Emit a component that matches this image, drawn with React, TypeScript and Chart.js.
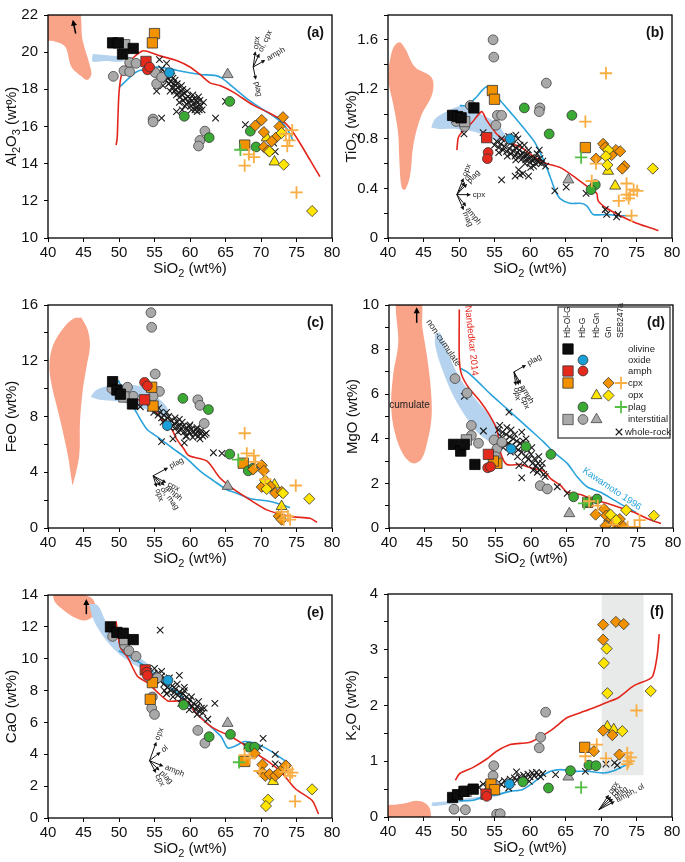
import React, { useEffect, useRef } from 'react';
import { Chart, registerables } from 'chart.js';

Chart.register(...registerables);
const FF = "'Liberation Sans', Arial, Helvetica, sans-serif";
Chart.defaults.font.family = FF;

// ---------------- DATA ----------------
// Panel (a) Al2O3
const aWholeRock = [[56.3,18.7],[56.6,18.5],[56.9,18.6],[57.0,18.3],[57.3,18.4],[57.5,18.1],[57.7,18.3],[57.8,17.9],[58.0,18.0],[58.1,17.7],[58.3,18.1],[58.4,17.8],[58.6,17.6],[58.7,17.9],[58.9,17.7],[59.0,17.4],[59.2,17.8],[59.4,17.5],[59.5,17.2],[59.7,17.6],[59.8,17.3],[60.0,17.5],[60.1,17.1],[60.3,17.4],[60.5,17.2],[60.6,17.5],[60.8,17.0],[61.0,17.3],[61.1,17.1],[61.3,16.9],[61.4,17.4],[61.5,17.1],[58.2,18.3],[57.4,18.7],[59.0,18.0],[60.2,16.9],[61.0,16.8],[57.2,17.9],[58.5,17.3],[56.0,19.1],[55.7,19.6],[56.7,19.4],[55.3,17.9],[56.0,16.45],[58.1,16.8],[61.9,17.3],[63.6,16.45],[65.0,17.35],[67.8,16.1],[72.0,14.65],[71.8,15.1],[54.5,19.1],[55.8,18.9],[56.5,18.9],[57.6,18.6],[58.8,18.2],[59.6,17.9],[60.4,17.7],[61.2,17.6],[57.9,18.5],[59.3,17.1],[60.7,16.9],[58.9,16.9],[61.7,16.9],[56.2,18.2],[57.0,18.9],[60.9,17.4]];
const aBlackSq = [[49.1,20.5],[49.9,20.5],[50.5,19.9],[52.0,20.2]];
const aGraySq = [[50.8,20.4]];
const aRedSq = [[53.8,19.5]];
const aOrangeSq = [[55.0,21.0],[54.7,20.5],[67.7,15.0]];
const aBlueCi = [[57.1,18.9]];
const aRedCi = [[54.0,19.05],[54.3,19.2]];
const aGreenCi = [[59.2,16.55],[62.7,15.4],[65.6,17.35],[68.5,15.75],[69.3,14.9]];
const aGrayCi = [[49.2,18.7],[50.7,19.0],[51.5,18.95],[51.5,19.45],[52.4,19.4],[55.1,18.9],[55.3,18.3],[56.0,18.65],[54.8,16.4],[54.8,16.25],[62.1,15.75],[61.4,15.25],[61.2,14.95]];
const aGrayTri = [[65.3,18.8]];
const aYellowTri = [[71.9,14.1],[70.8,15.4]];
const aOrangeDia = [[73.1,16.5],[70.1,16.35],[69.2,16.05],[70.4,15.7],[72.6,16.0],[72.1,15.4],[71.5,15.2],[70.4,14.9],[71.0,14.7]];
const aYellowDia = [[73.2,13.95],[77.2,11.45],[72.9,15.65],[71.2,14.65]];
const aOrangePlus = [[67.7,13.9],[68.3,14.5],[69.0,14.35],[73.5,15.6],[74.4,15.8],[74.0,15.25],[73.7,14.95],[75.0,12.45]];
const aGreenPlus = [[67.1,14.75]];
const aRed = [[49.6,15.0],[49.75,15.4],[49.85,16.5],[50.0,17.8],[50.3,18.7],[50.9,19.25],[52.0,19.7],[53.2,20.05],[53.9,20.05],[55.8,19.8],[58.1,19.55],[60.0,19.2],[61.4,18.8],[62.8,18.35],[64.2,18.2],[66.1,17.85],[68.9,17.15],[71.3,16.7],[72.9,16.35],[74.1,15.9],[75.5,15.1],[76.9,14.2],[78.3,13.3]];
const aBlue = [[50.0,18.1],[51.1,18.5],[52.5,18.95],[53.9,19.1],[55.3,19.2],[57.2,19.1],[59.1,18.95],[61.4,18.8],[63.5,18.75],[64.5,18.6],[66.1,18.1],[68.0,17.5],[69.9,17.0],[71.8,16.55],[73.2,16.1],[74.1,15.6],[74.5,15.25]];
const aBand = [[46.3,19.9],[48.0,19.85],[50.4,19.72],[50.6,19.5],[48.0,19.52],[46.3,19.5],[46.3,19.9]];
const aCumulate = [[39.5,22.6],[44.0,22.6],[44.9,20.6],[45.8,19.4],[46.1,18.8],[45.5,18.5],[44.7,18.7],[43.3,19.2],[42.4,20.3],[40.7,20.6],[39.5,20.7],[39.5,22.6]];

// Panel (b) TiO2
const bWholeRock = [[50.7,0.84],[53.4,0.85],[55.0,0.75],[55.3,0.78],[55.6,0.73],[55.9,0.76],[56.2,0.71],[56.4,0.74],[56.7,0.70],[56.9,0.78],[57.1,0.72],[57.3,0.68],[57.5,0.75],[57.7,0.70],[57.9,0.66],[58.0,0.73],[58.2,0.69],[58.4,0.65],[58.5,0.71],[58.7,0.67],[58.9,0.64],[59.0,0.69],[59.2,0.66],[59.4,0.63],[59.6,0.67],[59.8,0.64],[60.0,0.61],[60.2,0.65],[60.4,0.62],[60.6,0.64],[60.8,0.60],[61.0,0.63],[61.2,0.61],[61.4,0.64],[61.6,0.60],[61.8,0.62],[58.0,0.83],[58.3,0.80],[57.0,0.82],[59.2,0.75],[56.0,0.47],[57.9,0.50],[58.6,0.51],[59.0,0.52],[59.8,0.50],[61.3,0.71],[62.2,0.58],[63.5,0.38],[65.1,0.41],[67.9,0.36],[70.6,0.23],[70.8,0.19],[72.4,0.19],[72.2,0.17],[58.4,0.55],[60.1,0.57],[56.0,0.80],[57.3,0.77],[58.6,0.75],[59.8,0.71],[61.0,0.68],[55.6,0.69],[56.8,0.66],[58.0,0.63],[59.3,0.60],[60.5,0.58]];
const bBlackSq = [[49.1,0.99],[49.8,0.98],[50.3,0.97],[52.1,1.05]];
const bGraySq = [[50.8,0.94]];
const bRedSq = [[53.9,0.81]];
const bOrangeSq = [[54.7,1.19],[55.0,1.12],[67.8,0.73]];
const bBlueCi = [[57.2,0.80]];
const bRedCi = [[54.1,0.69],[54.0,0.64]];
const bGreenCi = [[59.2,1.05],[62.7,0.84],[65.9,0.99],[69.2,0.43],[68.6,0.39]];
const bGrayCi = [[49.6,0.94],[50.8,0.90],[51.6,1.07],[54.8,1.60],[54.9,1.46],[55.4,0.99],[56.0,0.99],[55.2,0.91],[61.4,1.05],[61.3,1.02],[62.3,1.25]];
const bGrayTri = [[65.4,0.47]];
const bYellowTri = [[71.0,0.54],[72.0,0.42]];
const bOrangeDia = [[70.3,0.76],[70.6,0.73],[69.3,0.64],[72.1,0.71],[72.7,0.70],[71.5,0.67],[73.3,0.58],[73.0,0.56]];
const bYellowDia = [[71.0,0.71],[70.7,0.66],[70.9,0.59],[77.3,0.56]];
const bOrangePlus = [[70.7,1.33],[67.8,0.94],[69.3,0.60],[68.7,0.46],[73.6,0.44],[72.5,0.30],[73.6,0.35],[73.9,0.32],[74.6,0.39],[75.1,0.38],[74.3,0.18],[74.1,0.35]];
const bGreenPlus = [[67.2,0.65]];
const bRed = [[49.7,0.71],[49.9,0.81],[50.35,0.85],[51.8,0.93],[53.2,1.02],[53.9,0.95],[55.3,0.84],[56.7,0.78],[58.8,0.73],[60.2,0.67],[61.6,0.62],[62.4,0.60],[64.2,0.57],[66.1,0.50],[68.2,0.41],[69.4,0.36],[69.6,0.30],[70.8,0.24],[72.7,0.18],[74.6,0.13],[76.5,0.09],[78.1,0.06]];
const bBlue = [[50.1,1.07],[51.1,1.07],[52.5,1.14],[53.9,1.22],[55.8,1.11],[57.6,0.99],[59.5,0.86],[60.7,0.77],[61.9,0.63],[62.8,0.50],[63.5,0.39],[64.2,0.32],[65.6,0.28],[67.1,0.28],[68.0,0.26],[68.9,0.19],[70.8,0.19],[72.5,0.18],[74.4,0.18]];
const bBand = [[46.1,0.89],[46.6,0.96],[48.2,1.02],[51.1,1.07],[53.4,0.99],[55.3,0.93],[56.2,0.86],[56.7,0.81],[55.8,0.78],[53.9,0.82],[52.0,0.86],[49.6,0.88],[47.3,0.88],[46.1,0.89]];
const bCumulate = [[40.1,1.38],[40.7,1.53],[41.6,1.58],[42.4,1.53],[43.8,1.38],[45.9,1.31],[46.4,1.25],[46.1,1.14],[44.7,0.99],[43.6,0.76],[43.1,0.50],[42.4,0.39],[41.9,0.41],[41.6,0.63],[41.4,0.86],[40.7,1.09],[40.1,1.25],[40.1,1.38]];

// Panel (c) FeO
const cWholeRock = [[53.0,8.7],[54.4,8.6],[54.9,8.3],[55.2,8.5],[55.5,8.1],[55.8,8.3],[56.0,7.9],[56.3,8.1],[56.5,7.7],[56.8,7.9],[57.0,7.5],[57.3,7.7],[57.5,7.3],[57.8,7.5],[58.0,7.2],[58.2,7.6],[58.5,7.3],[58.7,7.0],[59.0,7.3],[59.2,6.9],[59.5,7.2],[59.7,7.0],[60.0,6.8],[60.2,7.1],[60.5,6.9],[60.7,6.7],[61.0,6.9],[61.2,6.6],[61.5,6.8],[61.8,6.6],[62.1,6.7],[57.0,8.0],[58.5,7.8],[60.0,7.4],[56.0,6.2],[57.6,6.4],[59.2,6.1],[63.3,5.4],[64.5,5.35],[59.5,6.6],[61.0,7.2],[55.0,8.7],[55.6,8.6],[56.7,8.3],[57.9,7.9],[58.9,7.6],[59.9,7.3],[60.9,7.1],[61.6,7.0],[62.3,6.8],[56.2,7.6],[57.2,7.2],[58.3,6.9],[59.4,6.6],[60.4,6.5],[61.4,6.4]];
const cBlackSq = [[49.1,10.5],[49.7,9.9],[50.2,9.6],[51.9,8.9]];
const cGraySq = [[50.7,9.4]];
const cRedSq = [[53.6,9.2]];
const cOrangeSq = [[54.6,10.1],[54.8,8.75],[67.5,4.65]];
const cBlueCi = [[56.8,7.35]];
const cRedCi = [[53.6,10.45],[54.0,10.2]];
const cGreenCi = [[59.0,9.3],[62.6,8.5],[65.6,5.3],[68.2,4.1],[68.9,4.3]];
const cGrayCi = [[49.0,10.0],[51.2,10.1],[52.0,9.45],[54.5,15.45],[54.6,14.4],[55.1,11.05],[55.7,9.8],[54.8,9.45],[61.1,9.2],[61.4,8.8],[62.0,7.5]];
const cGrayTri = [[65.3,3.0]];
const cYellowTri = [[72.9,1.55],[71.9,3.1]];
const cOrangeDia = [[70.1,4.5],[68.9,4.2],[70.4,4.1],[70.1,2.95],[71.3,3.0],[72.0,2.5],[72.9,2.6],[72.5,0.85],[72.9,0.6]];
const cYellowDia = [[70.6,3.4],[70.8,2.8],[73.1,2.5],[76.8,2.1]];
const cOrangePlus = [[67.7,6.8],[68.0,5.35],[69.0,5.2],[69.2,4.75],[70.6,3.5],[74.9,3.05],[72.9,1.15],[73.8,0.85],[74.1,0.6],[73.2,0.6]];
const cGreenPlus = [[66.8,4.9]];
const cRed = [[49.6,10.3],[50.0,9.4],[51.5,9.3],[53.4,9.1],[54.6,8.6],[55.8,8.0],[56.7,7.3],[57.4,7.1],[58.1,6.4],[59.1,5.7],[59.8,5.2],[62.4,4.8],[64.2,3.6],[66.1,2.8],[68.5,2.0],[70.8,1.3],[72.7,1.0],[74.6,0.8],[76.9,0.7],[77.9,0.4]];
const cBlue = [[49.9,10.6],[50.6,9.9],[52.0,8.7],[53.9,7.1],[55.8,6.4],[57.6,5.7],[59.5,5.0],[61.4,4.1],[63.3,3.4],[65.2,2.75],[66.6,2.5],[68.5,2.1],[70.8,1.95],[72.7,1.7],[74.1,1.45]];
const cBand = [[46.0,9.4],[46.8,9.9],[48.7,10.2],[51.1,10.3],[53.4,10.1],[55.3,9.4],[56.7,8.7],[56.9,8.1],[55.8,8.0],[53.9,8.5],[52.0,8.8],[49.6,9.1],[47.3,9.2],[46.0,9.4]];
const cCumulate = [[44.7,15.1],[45.6,14.2],[45.9,13.0],[45.4,11.5],[44.9,9.9],[44.5,7.6],[44.4,5.2],[43.5,3.1],[43.4,3.2],[42.8,5.2],[41.6,8.0],[40.5,10.3],[40.2,11.7],[40.7,13.1],[42.1,14.3],[43.5,15.0],[44.7,15.1]];

// Panel (d) MgO
const dWholeRock = [[50.6,5.9],[53.3,4.35],[55.4,4.4],[55.8,4.1],[56.0,4.3],[56.3,3.9],[56.5,4.2],[56.8,3.8],[57.0,4.1],[57.3,3.7],[57.5,4.0],[57.8,3.6],[58.0,3.9],[58.2,3.5],[58.5,3.8],[58.7,3.4],[59.0,3.6],[59.2,3.2],[59.5,3.5],[59.7,3.1],[60.0,3.3],[60.2,2.9],[60.5,3.1],[60.7,2.8],[61.0,2.9],[61.2,2.6],[61.5,2.7],[61.8,2.4],[62.0,2.3],[56.9,5.2],[58.7,4.3],[58.7,2.25],[63.7,1.85],[65.1,1.55],[58.3,2.8],[60.3,2.6],[57.2,4.4],[59.3,4.0],[55.6,4.6],[56.6,4.5],[57.7,4.2],[58.9,3.9],[60.1,3.6],[61.1,3.2],[56.1,3.6],[57.1,3.4],[58.1,3.2],[59.1,2.9],[60.9,2.5],[61.6,2.9]];
const dBlackSq = [[49.1,3.75],[50.1,3.45],[50.6,3.75],[52.1,2.85]];
const dGraySq = [[50.9,3.95]];
const dRedSq = [[54.0,3.3]];
const dOrangeSq = [[55.2,2.9],[54.7,3.0],[68.0,1.15]];
const dBlueCi = [[57.2,3.55]];
const dRedCi = [[53.9,2.7],[54.3,2.75]];
const dGreenCi = [[59.3,3.65],[62.8,3.3],[66.0,1.4],[69.3,1.3],[68.0,1.15]];
const dGrayCi = [[49.3,6.7],[51.0,6.05],[51.6,4.6],[51.6,4.15],[52.6,3.8],[54.8,3.95],[55.2,3.55],[55.9,3.85],[61.3,1.9],[62.3,1.75],[55.0,3.2]];
const dGrayTri = [[65.4,0.65]];
const dYellowTri = [[71.0,0.45]];
const dOrangeDia = [[70.3,0.85],[69.1,0.6],[70.6,0.55],[71.3,0.4],[71.7,0.25],[72.2,0.2],[72.9,0.1],[70.5,0.1],[72.5,0.4]];
const dYellowDia = [[73.4,0.8],[77.3,0.55],[71.2,0.6],[72.0,0.35]];
const dOrangePlus = [[68.2,1.2],[69.4,1.0],[75.3,0.35],[74.6,0.05],[73.6,0.05],[71.5,0.15]];
const dGreenPlus = [[67.5,1.1]];
const dRed = [[49.9,9.8],[49.9,7.6],[50.2,6.9],[51.2,6.3],[52.8,5.7],[54.0,5.15],[55.2,4.4],[55.7,3.4],[56.6,2.85],[58.5,2.85],[59.9,2.7],[61.8,2.55],[62.8,2.2],[64.2,1.9],[65.1,1.6],[67.0,1.5],[68.9,1.25],[70.8,1.1],[72.7,0.9],[74.6,0.7],[76.5,0.4],[78.3,0.2]];
const dBlue = [[50.1,7.15],[51.0,7.0],[52.4,6.6],[54.3,6.0],[56.6,5.35],[58.5,4.8],[59.9,4.4],[61.8,3.85],[63.2,3.4],[65.1,2.9],[66.5,2.3],[67.9,1.85],[69.8,1.6],[71.7,1.25],[73.6,0.9],[74.8,0.7]];
const dBand = [[46.5,8.7],[47.2,8.75],[48.1,8.0],[50.0,6.7],[52.4,5.7],[54.3,5.0],[55.7,4.3],[55.6,3.8],[54.3,3.85],[52.4,4.3],[51.0,4.9],[49.1,5.9],[47.4,7.2],[46.5,8.2],[46.5,8.7]];
const dCumulate = [[40.9,10.3],[44.3,10.3],[44.7,9.0],[45.4,7.6],[45.9,6.2],[46.0,5.0],[45.5,4.0],[44.6,3.1],[43.4,2.9],[42.0,3.3],[40.8,4.3],[40.3,5.5],[40.6,6.9],[41.3,8.3],[41.0,9.6],[40.9,10.3]];

// Panel (e) CaO
const eWholeRock = [[54.2,9.2],[54.8,9.0],[55.2,8.8],[55.5,9.1],[55.8,8.6],[56.0,8.9],[56.3,8.4],[56.6,8.7],[56.8,8.2],[57.0,8.5],[57.3,8.0],[57.5,8.3],[57.8,7.9],[58.0,8.1],[58.3,7.7],[58.5,7.9],[58.8,7.5],[59.0,7.8],[59.3,7.4],[59.5,7.6],[59.8,7.2],[60.0,7.4],[60.3,7.0],[60.5,7.2],[60.8,6.8],[61.0,7.0],[61.3,6.7],[61.6,6.9],[61.8,6.6],[55.8,11.8],[58.5,8.95],[59.2,8.2],[63.5,7.2],[70.3,5.0],[72.0,4.0],[72.0,3.4],[56.7,7.8],[62.5,6.2],[68.0,4.5],[69.8,4.4],[73.0,3.3],[55.0,9.4],[56.0,9.2],[57.1,8.8],[58.2,8.4],[59.2,8.0],[60.2,7.6],[61.2,7.3],[62.0,6.9],[56.4,8.0],[57.6,7.6],[58.7,7.2],[59.9,6.8],[61.0,6.5]];
const eBlackSq = [[48.8,12.0],[49.7,11.65],[50.6,11.6],[52.0,11.2]];
const eGraySq = [[50.8,11.2]];
const eRedSq = [[53.7,9.3]];
const eOrangeSq = [[54.7,8.5],[54.4,7.45],[67.7,3.55]];
const eBlueCi = [[56.9,8.65]];
const eRedCi = [[53.9,9.15],[54.0,8.95]];
const eGreenCi = [[59.1,7.1],[62.7,5.1],[65.7,5.25],[68.3,4.45],[69.1,4.45]];
const eGrayCi = [[49.1,11.4],[50.8,10.85],[51.4,10.5],[52.4,10.15],[55.4,8.8],[54.7,7.6],[54.6,6.9],[55.0,6.5],[61.1,5.5],[62.1,4.7]];
const eGrayTri = [[65.3,5.95]];
const eYellowTri = [[71.7,2.3]];
const eOrangeDia = [[69.1,4.05],[70.2,3.35],[70.2,2.85],[70.6,2.65],[71.2,2.75],[72.0,2.65],[72.5,2.85],[73.2,3.15],[73.5,3.3]];
const eYellowDia = [[71.0,1.15],[70.7,0.75],[77.2,1.8]];
const eOrangePlus = [[67.7,3.95],[68.4,3.75],[73.8,3.05],[74.4,2.85],[73.4,2.9],[74.1,2.65],[74.8,1.05],[69.8,2.95]];
const eGreenPlus = [[66.9,3.5]];
const eRed = [[49.6,12.35],[49.8,11.55],[50.2,10.7],[51.2,10.1],[52.6,8.9],[54.0,8.5],[55.4,7.9],[56.9,7.35],[58.3,7.35],[59.7,7.3],[60.6,6.7],[62.5,5.9],[63.9,5.5],[65.4,5.2],[67.3,4.7],[69.1,4.1],[71.0,3.55],[72.9,2.85],[74.8,1.85],[77.2,1.1],[78.1,0.25]];
const eBlue = [[50.0,10.5],[51.2,10.2],[53.1,9.7],[55.0,9.1],[56.9,8.3],[58.7,7.7],[60.2,6.9],[61.6,6.3],[63.0,5.7],[64.4,5.1],[65.3,4.4],[66.3,4.5],[67.7,4.8],[69.1,4.7],[70.6,4.4],[72.4,3.9],[74.1,3.35]];
const eBand = [[45.8,13.45],[47.0,13.35],[47.9,12.55],[48.8,11.75],[50.2,10.9],[52.1,10.3],[54.0,9.7],[54.5,9.3],[53.1,9.4],[51.2,9.9],[49.3,10.6],[47.4,11.65],[46.3,12.55],[45.8,13.45]];
const eCumulate = [[40.7,13.96],[42.5,14.1],[44.1,14.05],[46.0,13.86],[46.7,13.35],[46.5,12.75],[45.3,12.4],[43.9,12.55],[42.2,13.05],[41.0,13.55],[40.7,13.96]];

// Panel (f) K2O
const fWholeRock = [[53.4,0.59],[54.0,0.55],[54.6,0.60],[55.2,0.56],[55.6,0.62],[56.0,0.58],[56.4,0.65],[56.8,0.60],[57.2,0.68],[57.5,0.63],[57.8,0.70],[58.1,0.81],[58.2,0.66],[58.5,0.72],[58.8,0.68],[59.1,0.75],[59.4,0.70],[59.7,0.77],[60.0,0.72],[60.3,0.79],[60.6,0.74],[60.9,0.80],[61.2,0.76],[61.5,0.72],[61.8,0.78],[63.6,0.76],[67.8,0.82],[69.1,0.93],[70.7,0.95],[71.9,0.97],[72.3,0.93],[52.0,0.50],[52.8,0.53],[57.0,0.52],[59.9,0.64]];
const fBlackSq = [[49.1,0.35],[49.8,0.40],[50.7,0.46],[52.0,0.50]];
const fGraySq = [[51.0,0.46]];
const fRedSq = [[53.8,0.41]];
const fOrangeSq = [[54.5,0.59],[55.0,0.49],[67.7,1.25]];
const fBlueCi = [[57.1,0.59]];
const fRedCi = [[53.9,0.37]];
const fGreenCi = [[59.0,0.63],[62.6,0.52],[65.7,0.83],[68.3,0.93],[69.3,0.92]];
const fGrayCi = [[49.3,0.14],[50.9,0.13],[54.9,0.92],[54.8,0.74],[55.1,0.57],[55.3,0.05],[55.8,0.06],[61.3,1.24],[61.5,1.43],[62.2,1.88]];
const fGrayTri = [[65.4,0.72]];
const fYellowTri = [[70.9,1.62],[71.8,1.57]];
const fOrangeDia = [[70.3,3.45],[72.1,3.5],[73.2,3.46],[70.3,3.18],[70.3,1.55],[71.6,1.47],[69.0,1.18],[72.6,1.12]];
const fYellowDia = [[70.8,3.02],[70.4,2.76],[70.9,2.22],[73.0,1.54],[77.0,2.26]];
const fOrangePlus = [[75.0,1.91],[69.4,1.3],[67.8,1.09],[70.7,1.05],[73.7,1.15],[74.2,1.07],[73.7,0.95],[73.9,1.0]];
const fGreenPlus = [[67.2,0.53]];
const fRed = [[49.5,0.66],[50.1,0.78],[52.0,0.89],[53.9,1.04],[55.3,1.18],[57.2,1.3],[58.6,1.32],[60.0,1.34],[61.5,1.44],[62.9,1.55],[63.8,1.64],[65.2,1.78],[67.1,1.87],[69.0,1.96],[70.9,2.06],[72.3,2.13],[74.7,2.36],[76.6,2.46],[77.3,2.53],[77.9,2.88],[78.2,3.28]];
const fBlue = [[50.1,0.29],[52.0,0.3],[53.9,0.39],[55.3,0.40],[57.2,0.46],[58.9,0.49],[60.3,0.60],[61.5,0.72],[62.9,0.82],[64.3,0.85],[66.2,0.82],[68.1,0.82],[70.4,0.79],[71.8,0.83],[73.3,0.92],[74.3,0.99]];
const fBand = [[46.2,0.26],[48.0,0.28],[50.0,0.31],[52.0,0.35],[54.0,0.38],[56.0,0.44],[57.0,0.47],[56.0,0.40],[54.0,0.33],[52.0,0.29],[50.0,0.26],[48.0,0.22],[46.2,0.2],[46.2,0.26]];
const fCumulate = [[40.0,-0.1],[40.0,0.2],[41.0,0.22],[42.6,0.25],[44.0,0.29],[45.2,0.25],[45.9,0.15],[46.05,0.0],[46.0,-0.1],[40.0,-0.1]];
const fRect = [[70.1,0.75],[76.0,0.75],[76.0,4.1],[70.1,4.1],[70.1,0.75]];

// ---------------- STYLES ----------------
const RED_LINE = '#E3261C';
const BLUE_LINE = '#2AA3DC';
const SALMON = '#F9A488';
const BAND = '#B5D3EE';
const RECT_C = '#E8EAEA';

const MK: any = {
  blackSq: { style: 'rect', r: 7.3, fill: '#0d0d0d', stroke: '#000', lw: 0.8 },
  redSq: { style: 'rect', r: 7.3, fill: '#E42A1D', stroke: '#333', lw: 0.8 },
  orangeSq: { style: 'rect', r: 7.3, fill: '#F39200', stroke: '#333', lw: 0.8 },
  graySq: { style: 'rect', r: 7.3, fill: '#A9A9A9', stroke: '#444', lw: 0.8 },
  blueCi: { style: 'circle', r: 4.9, fill: '#1AA0D8', stroke: '#333', lw: 0.8 },
  redCi: { style: 'circle', r: 4.9, fill: '#E42A1D', stroke: '#333', lw: 0.8 },
  greenCi: { style: 'circle', r: 4.9, fill: '#3BAA34', stroke: '#333', lw: 0.8 },
  grayCi: { style: 'circle', r: 4.9, fill: '#A9A9A9', stroke: '#444', lw: 0.8 },
  yellowTri: { style: 'triangle', r: 6.3, fill: '#FFE500', stroke: '#333', lw: 0.8 },
  grayTri: { style: 'triangle', r: 6.3, fill: '#A9A9A9', stroke: '#444', lw: 0.8 },
  orangeDia: { style: 'rectRot', r: 5.6, fill: '#F39200', stroke: '#333', lw: 0.8 },
  yellowDia: { style: 'rectRot', r: 5.6, fill: '#FFE500', stroke: '#333', lw: 0.8 },
  orangePlus: { style: 'cross', r: 6.2, fill: '#F9AE45', stroke: '#F9AE45', lw: 1.8 },
  greenPlus: { style: 'cross', r: 6.2, fill: '#55BF45', stroke: '#55BF45', lw: 1.8 },
  wholeRock: { style: 'crossRot', r: 4.6, fill: '#1a1a1a', stroke: '#1a1a1a', lw: 1.1 },
};
const MARKER_ORDER: any = { orangePlus: 1, greenPlus: 1, yellowDia: 2, orangeDia: 2, yellowTri: 2, blueCi: 2, greenCi: 2, redCi: 2, redSq: 2, orangeSq: 2, blackSq: 2, graySq: 3, grayCi: 3, grayTri: 3, wholeRock: 5 };
const MARKER_KEYS = ['orangePlus','greenPlus','yellowDia','orangeDia','yellowTri','blueCi','greenCi','redCi','redSq','orangeSq','blackSq','graySq','grayCi','grayTri','wholeRock'];

const PANELS: any[] = [
  { id: 'a', left: 0, top: 0, yMin: 10, yMax: 22, yStep: 2, yLabelStep: 2, yTitle: 'Al{2}O{3} (wt%)',
    s: { wholeRock: aWholeRock, blackSq: aBlackSq, graySq: aGraySq, redSq: aRedSq, orangeSq: aOrangeSq, blueCi: aBlueCi, redCi: aRedCi, greenCi: aGreenCi, grayCi: aGrayCi, grayTri: aGrayTri, yellowTri: aYellowTri, orangeDia: aOrangeDia, yellowDia: aYellowDia, orangePlus: aOrangePlus, greenPlus: aGreenPlus },
    red: aRed, blue: aBlue, band: aBand, cumulate: aCumulate,
    vec: { x: 68.9, y: 19.2, arrows: [['opx', 82, 16], ['ol, cpx', 65, 15], ['amph', 30, 14], ['plag', -78, 13]] },
    arrows: [[43.9, 21.0, 43.5, 21.75]], texts: [] },
  { id: 'b', left: 340, top: 0, yMin: 0, yMax: 1.8, yStep: 0.2, yLabelStep: 0.4, yTitle: 'TiO{2} (wt%)',
    s: { wholeRock: bWholeRock, blackSq: bBlackSq, graySq: bGraySq, redSq: bRedSq, orangeSq: bOrangeSq, blueCi: bBlueCi, redCi: bRedCi, greenCi: bGreenCi, grayCi: bGrayCi, grayTri: bGrayTri, yellowTri: bYellowTri, orangeDia: bOrangeDia, yellowDia: bYellowDia, orangePlus: bOrangePlus, greenPlus: bGreenPlus },
    red: bRed, blue: bBlue, band: bBand, cumulate: bCumulate,
    vec: { x: 49.7, y: 0.35, arrows: [['opx', 68, 18], ['ol', 57, 15], ['plag', 47, 15], ['cpx', 0, 14], ['amph', -52, 15], ['mag', -66, 17]] },
    arrows: [], texts: [] },
  { id: 'c', left: 0, top: 290, yMin: 0, yMax: 16, yStep: 2, yLabelStep: 4, yTitle: 'FeO (wt%)',
    s: { wholeRock: cWholeRock, blackSq: cBlackSq, graySq: cGraySq, redSq: cRedSq, orangeSq: cOrangeSq, blueCi: cBlueCi, redCi: cRedCi, greenCi: cGreenCi, grayCi: cGrayCi, grayTri: cGrayTri, yellowTri: cYellowTri, orangeDia: cOrangeDia, yellowDia: cYellowDia, orangePlus: cOrangePlus, greenPlus: cGreenPlus },
    red: cRed, blue: cBlue, band: cBand, cumulate: cCumulate,
    vec: { x: 54.8, y: 3.75, arrows: [['plag', 28, 17], ['cpx', -28, 15], ['amph', -40, 15], ['ol, mag', -54, 13], ['opx', -72, 12]] },
    arrows: [], texts: [] },
  { id: 'd', left: 341, top: 290, yMin: 0, yMax: 10, yStep: 1, yLabelStep: 2, yTitle: 'MgO (wt%)', legend: true,
    s: { wholeRock: dWholeRock, blackSq: dBlackSq, graySq: dGraySq, redSq: dRedSq, orangeSq: dOrangeSq, blueCi: dBlueCi, redCi: dRedCi, greenCi: dGreenCi, grayCi: dGrayCi, grayTri: dGrayTri, yellowTri: dYellowTri, orangeDia: dOrangeDia, yellowDia: dYellowDia, orangePlus: dOrangePlus, greenPlus: dGreenPlus },
    red: dRed, blue: dBlue, band: dBand, cumulate: dCumulate,
    vec: { x: 57.6, y: 7.0, arrows: [['plag', 30, 14], ['amph', -60, 14], ['ol, cpx', -70, 14], ['opx', -82, 14]] },
    arrows: [[43.9, 9.2, 43.9, 9.9]],
    texts: [
      { t: 'cumulate', x: 42.9, y: 5.5, rot: 0, size: 10, color: '#222' },
      { t: 'non-cumulate', x: 47.65, y: 8.3, rot: 56, size: 9, color: '#333' },
      { t: 'Nandedkar 2014', x: 51.6, y: 8.4, rot: 84, size: 9.5, color: RED_LINE },
      { t: 'Kawamoto 1996', x: 71.4, y: 1.75, rot: 34, size: 9.5, color: BLUE_LINE },
    ] },
  { id: 'e', left: 0, top: 580, yMin: 0, yMax: 14, yStep: 2, yLabelStep: 2, yTitle: 'CaO (wt%)',
    s: { wholeRock: eWholeRock, blackSq: eBlackSq, graySq: eGraySq, redSq: eRedSq, orangeSq: eOrangeSq, blueCi: eBlueCi, redCi: eRedCi, greenCi: eGreenCi, grayCi: eGrayCi, grayTri: eGrayTri, yellowTri: eYellowTri, orangeDia: eOrangeDia, yellowDia: eYellowDia, orangePlus: eOrangePlus, greenPlus: eGreenPlus },
    red: eRed, blue: eBlue, band: eBand, cumulate: eCumulate,
    vec: { x: 54.3, y: 3.6, arrows: [['opx', 70, 20], ['ol', 38, 14], ['amph', -22, 15], ['plag', -45, 14], ['cpx', -62, 14]] },
    arrows: [[45.4, 12.8, 45.4, 13.75]], texts: [] },
  { id: 'f', left: 340, top: 579, yMin: 0, yMax: 4, yStep: 0.5, yLabelStep: 1, yTitle: 'K{2}O (wt%)',
    s: { wholeRock: fWholeRock, blackSq: fBlackSq, graySq: fGraySq, redSq: fRedSq, orangeSq: fOrangeSq, blueCi: fBlueCi, redCi: fRedCi, greenCi: fGreenCi, grayCi: fGrayCi, grayTri: fGrayTri, yellowTri: fYellowTri, orangeDia: fOrangeDia, yellowDia: fYellowDia, orangePlus: fOrangePlus, greenPlus: fGreenPlus },
    red: fRed, blue: fBlue, band: fBand, cumulate: fCumulate, rect: fRect,
    vec: { x: 69.7, y: 0.13, arrows: [['opx', 56, 18], ['cpx', 47, 18], ['plag', 38, 18], ['amph, ol', 28, 18]] },
    arrows: [], texts: [] },
];

// ---------------- HELPERS ----------------
const pts = (a: number[][]) => a.map(([x, y]) => ({ x, y }));

function drawSym(ctx: CanvasRenderingContext2D, m: any, x: number, y: number) {
  const r = m.r;
  ctx.beginPath();
  let fillIt = true;
  if (m.style === 'rect') { const s = r * Math.SQRT1_2; ctx.rect(x - s, y - s, 2 * s, 2 * s); }
  else if (m.style === 'circle') { ctx.arc(x, y, r, 0, Math.PI * 2); }
  else if (m.style === 'triangle') { ctx.moveTo(x, y - r); ctx.lineTo(x + r * 0.866, y + r * 0.5); ctx.lineTo(x - r * 0.866, y + r * 0.5); ctx.closePath(); }
  else if (m.style === 'rectRot') { ctx.moveTo(x - r, y); ctx.lineTo(x, y - r); ctx.lineTo(x + r, y); ctx.lineTo(x, y + r); ctx.closePath(); }
  else if (m.style === 'cross') { fillIt = false; ctx.moveTo(x - r, y); ctx.lineTo(x + r, y); ctx.moveTo(x, y - r); ctx.lineTo(x, y + r); }
  else if (m.style === 'crossRot') { fillIt = false; const d = r * Math.SQRT1_2; ctx.moveTo(x - d, y - d); ctx.lineTo(x + d, y + d); ctx.moveTo(x - d, y + d); ctx.lineTo(x + d, y - d); }
  if (fillIt) { ctx.fillStyle = m.fill; ctx.fill(); }
  ctx.lineWidth = m.lw; ctx.strokeStyle = m.stroke; ctx.stroke();
}

function drawRich(ctx: CanvasRenderingContext2D, s: string, x: number, y: number, size: number) {
  const parts: any[] = [];
  s.split(/(\{[^}]*\})/).forEach((seg) => {
    if (!seg) return;
    if (seg[0] === '{') parts.push({ t: seg.slice(1, -1), sub: true });
    else parts.push({ t: seg, sub: false });
  });
  const sub = Math.round(size * 0.7);
  let w = 0;
  const ws = parts.map((p) => { ctx.font = `${p.sub ? sub : size}px ${FF}`; const m = ctx.measureText(p.t).width; w += m; return m; });
  let cx = x - w / 2;
  ctx.textAlign = 'left';
  ctx.textBaseline = 'alphabetic';
  parts.forEach((p, i) => {
    ctx.font = `${p.sub ? sub : size}px ${FF}`;
    ctx.fillText(p.t, cx, p.sub ? y + size * 0.28 : y);
    cx += ws[i];
  });
}

function arrowHead(ctx: CanvasRenderingContext2D, tx: number, ty: number, ux: number, uy: number, L: number, W: number) {
  ctx.beginPath();
  ctx.moveTo(tx, ty);
  ctx.lineTo(tx - ux * L - uy * W, ty - uy * L + ux * W);
  ctx.lineTo(tx - ux * L + uy * W, ty - uy * L - ux * W);
  ctx.closePath();
  ctx.fill();
}

function makeDeco(p: any) {
  return {
    id: 'deco' + p.id,
    afterDatasetsDraw(chart: any) {
      const ctx: CanvasRenderingContext2D = chart.ctx;
      const ca = chart.chartArea;
      const X = (v: number) => chart.scales.x.getPixelForValue(v);
      const Y = (v: number) => chart.scales.y.getPixelForValue(v);
      ctx.save();
      ctx.strokeStyle = '#000'; ctx.fillStyle = '#000'; ctx.lineWidth = 1.5;
      p.arrows.forEach((a: number[]) => {
        const x1 = X(a[0]), y1 = Y(a[1]), x2 = X(a[2]), y2 = Y(a[3]);
        const d = Math.hypot(x2 - x1, y2 - y1), ux = (x2 - x1) / d, uy = (y2 - y1) / d;
        ctx.beginPath(); ctx.moveTo(x1, y1); ctx.lineTo(x2 - ux * 3, y2 - uy * 3); ctx.stroke();
        arrowHead(ctx, x2, y2, ux, uy, 6, 3);
      });
      p.texts.forEach((t: any) => {
        ctx.save();
        ctx.translate(X(t.x), Y(t.y));
        ctx.rotate((t.rot * Math.PI) / 180);
        ctx.font = `${t.size}px ${FF}`; ctx.fillStyle = t.color;
        ctx.textAlign = 'center'; ctx.textBaseline = 'middle';
        ctx.fillText(t.t, 0, 0);
        ctx.restore();
      });
      const v = p.vec;
      const ox = X(v.x), oy = Y(v.y);
      ctx.strokeStyle = '#111'; ctx.fillStyle = '#111'; ctx.lineWidth = 1;
      v.arrows.forEach((a: any) => {
        const rad = (a[1] * Math.PI) / 180;
        const ux = Math.cos(rad), uy = -Math.sin(rad);
        const tx = ox + ux * a[2], ty = oy + uy * a[2];
        ctx.beginPath(); ctx.moveTo(ox, oy); ctx.lineTo(tx - ux * 2, ty - uy * 2); ctx.stroke();
        arrowHead(ctx, tx, ty, ux, uy, 4, 2);
        ctx.save();
        ctx.translate(tx + ux * 2, ty + uy * 2);
        ctx.rotate(-rad);
        ctx.font = `8px ${FF}`; ctx.textAlign = 'left'; ctx.textBaseline = 'middle'; ctx.fillStyle = '#222';
        ctx.fillText(a[0], 0, 0);
        ctx.restore();
      });
      ctx.strokeStyle = '#000'; ctx.lineWidth = 1.3;
      ctx.strokeRect(ca.left, ca.top, ca.right - ca.left, ca.bottom - ca.top);
      if (p.legend) {
        const L = ca.left, T = ca.top;
        const bx = L + 169, by = T + 2, bw = ca.right - 3 - bx, bh = 131;
        ctx.fillStyle = '#fff'; ctx.fillRect(bx, by, bw, bh);
        ctx.strokeStyle = '#555'; ctx.lineWidth = 1.5; ctx.strokeRect(bx, by, bw, bh);
        const cols = [179, 194, 207.5, 219.5, 232];
        const heads = ['Hb-Ol-G', 'Hb-G', 'Hb-Gn', 'Gn', 'SE8247a'];
        ctx.font = `8.5px ${FF}`; ctx.fillStyle = '#222'; ctx.textAlign = 'left'; ctx.textBaseline = 'middle';
        heads.forEach((h, i) => { ctx.save(); ctx.translate(L + cols[i], T + 33); ctx.rotate(-Math.PI / 2); ctx.fillText(h, 0, 0); ctx.restore(); });
        const rows: any[] = [
          ['olivine', 44, [[0, 'blackSq']]],
          ['oxide', 55, [[1, 'blueCi']]],
          ['amph', 66, [[0, 'redSq'], [1, 'redCi']]],
          ['cpx', 78, [[0, 'orangeSq'], [3, 'orangeDia'], [4, 'orangePlus']]],
          ['opx', 90.5, [[2, 'yellowTri'], [3, 'yellowDia']]],
          ['plag', 102, [[1, 'greenCi'], [4, 'greenPlus']]],
          ['interstitial', 114.5, [[0, 'graySq'], [1, 'grayCi'], [2, 'grayTri']]],
        ];
        rows.forEach(([lab, ry, syms]) => {
          syms.forEach(([ci, k]: any) => drawSym(ctx, MK[k], L + cols[ci], T + ry));
          ctx.fillStyle = '#222'; ctx.font = `9.5px ${FF}`; ctx.textAlign = 'left'; ctx.textBaseline = 'middle';
          ctx.fillText(lab, L + 239, T + ry);
        });
        drawSym(ctx, MK.wholeRock, L + 230, T + 127);
        ctx.fillStyle = '#222'; ctx.font = `9.5px ${FF}`; ctx.textAlign = 'left'; ctx.textBaseline = 'middle';
        ctx.fillText('whole-rock', L + 236, T + 127);
      }
      ctx.fillStyle = '#111'; ctx.font = `bold 14px ${FF}`; ctx.textAlign = 'right'; ctx.textBaseline = 'alphabetic';
      ctx.fillText('(' + p.id + ')', ca.right - 8, ca.top + 22);
      ctx.fillStyle = '#111';
      drawRich(ctx, 'SiO{2} (wt%)', (ca.left + ca.right) / 2, ca.bottom + 35, 15);
      ctx.save();
      ctx.translate(ca.left - 32, (ca.top + ca.bottom) / 2);
      ctx.rotate(-Math.PI / 2);
      drawRich(ctx, p.yTitle, 0, 0, 15);
      ctx.restore();
      ctx.restore();
    },
  };
}

function buildConfig(p: any) {
  const ds: any[] = [];
  const poly = (data: number[][], color: string, tension: number, order: number) => ({
    data: pts(data), showLine: true, fill: 'shape', backgroundColor: color, borderColor: 'rgba(0,0,0,0)',
    borderWidth: 0, pointRadius: 0, tension, order, clip: 0,
  });
  const line = (data: number[][], color: string, order: number) => ({
    data: pts(data), showLine: true, fill: false, borderColor: color, backgroundColor: color,
    borderWidth: 1.6, pointRadius: 0, tension: 0.25, order,
  });
  if (p.rect) ds.push(poly(p.rect, RECT_C, 0, 10));
  ds.push(poly(p.cumulate, SALMON, 0.35, 9));
  ds.push(poly(p.band, BAND, 0.35, 8));
  ds.push(line(p.blue, BLUE_LINE, 7));
  ds.push(line(p.red, RED_LINE, 6));
  MARKER_KEYS.forEach((k) => {
    const data = p.s[k];
    if (!data) return;
    const m = MK[k];
    ds.push({
      data: pts(data), showLine: false, pointStyle: m.style, pointRadius: m.r,
      pointBackgroundColor: m.fill, pointBorderColor: m.stroke, pointBorderWidth: m.lw,
      backgroundColor: m.fill, borderColor: m.stroke, order: MARKER_ORDER[k],
    });
  });
  const isMajor = (v: number) => Math.abs(v / p.yLabelStep - Math.round(v / p.yLabelStep)) < 1e-6;
  return {
    type: 'line',
    data: { datasets: ds },
    options: {
      animation: false, responsive: false, devicePixelRatio: 1, events: [],
      layout: { padding: { left: 0, top: 6, right: 12, bottom: 0 } },
      plugins: { legend: { display: false }, tooltip: { enabled: false } },
      scales: {
        x: {
          type: 'linear', min: 40, max: 80,
          afterFit: (s: any) => { s.height = 52; },
          ticks: { stepSize: 5, autoSkip: false, color: '#111', font: { size: 15 }, padding: 2, maxRotation: 0 },
          grid: { display: true, drawOnChartArea: false, drawTicks: true, tickLength: 4, color: '#000', lineWidth: 1 },
          border: { display: false },
        },
        y: {
          type: 'linear', min: p.yMin, max: p.yMax,
          afterFit: (s: any) => { s.width = 48; },
          ticks: {
            stepSize: p.yStep, autoSkip: false, color: '#111', font: { size: 15 }, padding: 6,
            callback: (v: number) => (isMajor(v) ? String(Math.round(v * 10) / 10) : ''),
          },
          grid: { display: true, drawOnChartArea: false, drawTicks: true, tickLength: 4, color: '#000', lineWidth: 1 },
          border: { display: false },
        },
      },
    },
    plugins: [makeDeco(p)],
  };
}

function Panel({ p }: { p: any }) {
  const ref = useRef<HTMLCanvasElement>(null);
  useEffect(() => {
    const chart = new Chart(ref.current as HTMLCanvasElement, buildConfig(p) as any);
    return () => chart.destroy();
  }, [p]);
  return (
    <canvas ref={ref} width={344} height={290}
      style={{ position: 'absolute', left: p.left, top: p.top, width: 344, height: 290 }} />
  );
}

export default function App() {
  return (
    <div style={{ position: 'absolute', left: 0, top: 0, width: 685, height: 862, overflow: 'hidden', background: '#fff' }}>
      {PANELS.map((p) => <Panel key={p.id} p={p} />)}
    </div>
  );
}
